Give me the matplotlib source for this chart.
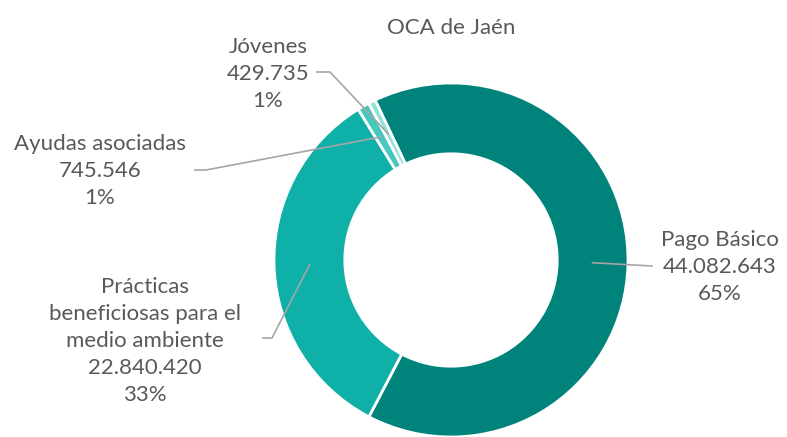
import numpy as np
import matplotlib.pyplot as plt

# OCA de Jaén: payments by line of aid
categories = ["Pago Básico", "Prácticas\nbeneficiosas para el\nmedio ambiente",
              "Ayudas asociadas", "Jóvenes"]
amounts = [44082643, 22840420, 745546, 429735]
percent_labels = ["65%", "33%", "1%", "1%"]
colors = ["#00837B", "#0FB0A7", "#45C8BD", "#8DE3D8"]

W, H = 787, 437
CX, CY, R = 451, 260, 177   # donut centre and radius in pixels

plt.rcParams["font.family"] = ["Lato", "DejaVu Sans"]
text_color = "#595959"
line_color = "#A6A6A6"

fig = plt.figure(figsize=(W / 100, H / 100), dpi=100)
ax = fig.add_axes([(CX - R) / W, (H - CY - R) / H, 2 * R / W, 2 * R / H])

wedges, _ = ax.pie(amounts, colors=colors, startangle=115.4, counterclock=False,
                   radius=1.0, wedgeprops=dict(width=0.4, edgecolor="white", linewidth=2))
ax.set_xlim(-1, 1)
ax.set_ylim(-1, 1)
ax.set_aspect("equal")
ax.axis("off")


def to_data(px, py):
    return (px - CX) / R, (CY - py) / R


def fmt(v):
    return f"{v:,}".replace(",", ".")


# label centre, leader start and bend point (pixels)
label_pos = [(720, 267), (145, 341), (100, 171), (268, 74)]
leader_start = [(652, 266), (263, 338), (195, 170), (317, 72)]
leader_bend = [(652, 266), (272, 338), (206, 170), (330, 72)]

for i, w in enumerate(wedges):
    mid = np.deg2rad((w.theta1 + w.theta2) / 2)
    ex, ey = 0.8 * np.cos(mid), 0.8 * np.sin(mid)
    sx, sy = to_data(*leader_start[i])
    bx, by = to_data(*leader_bend[i])
    ax.plot([sx, bx, ex], [sy, by, ey], color=line_color, lw=1.2, clip_on=False,
            zorder=3)
    tx, ty = to_data(*label_pos[i])
    ax.text(tx, ty, f"{categories[i]}\n{fmt(amounts[i])}\n{percent_labels[i]}",
            ha="center", va="center", fontsize=16, color=text_color,
            linespacing=1.45, clip_on=False)

fig.text(451 / W, 1 - 28 / H, "OCA de Jaén", ha="center", va="center",
         fontsize=16, color=text_color)

fig.savefig("out.png", dpi=100)
